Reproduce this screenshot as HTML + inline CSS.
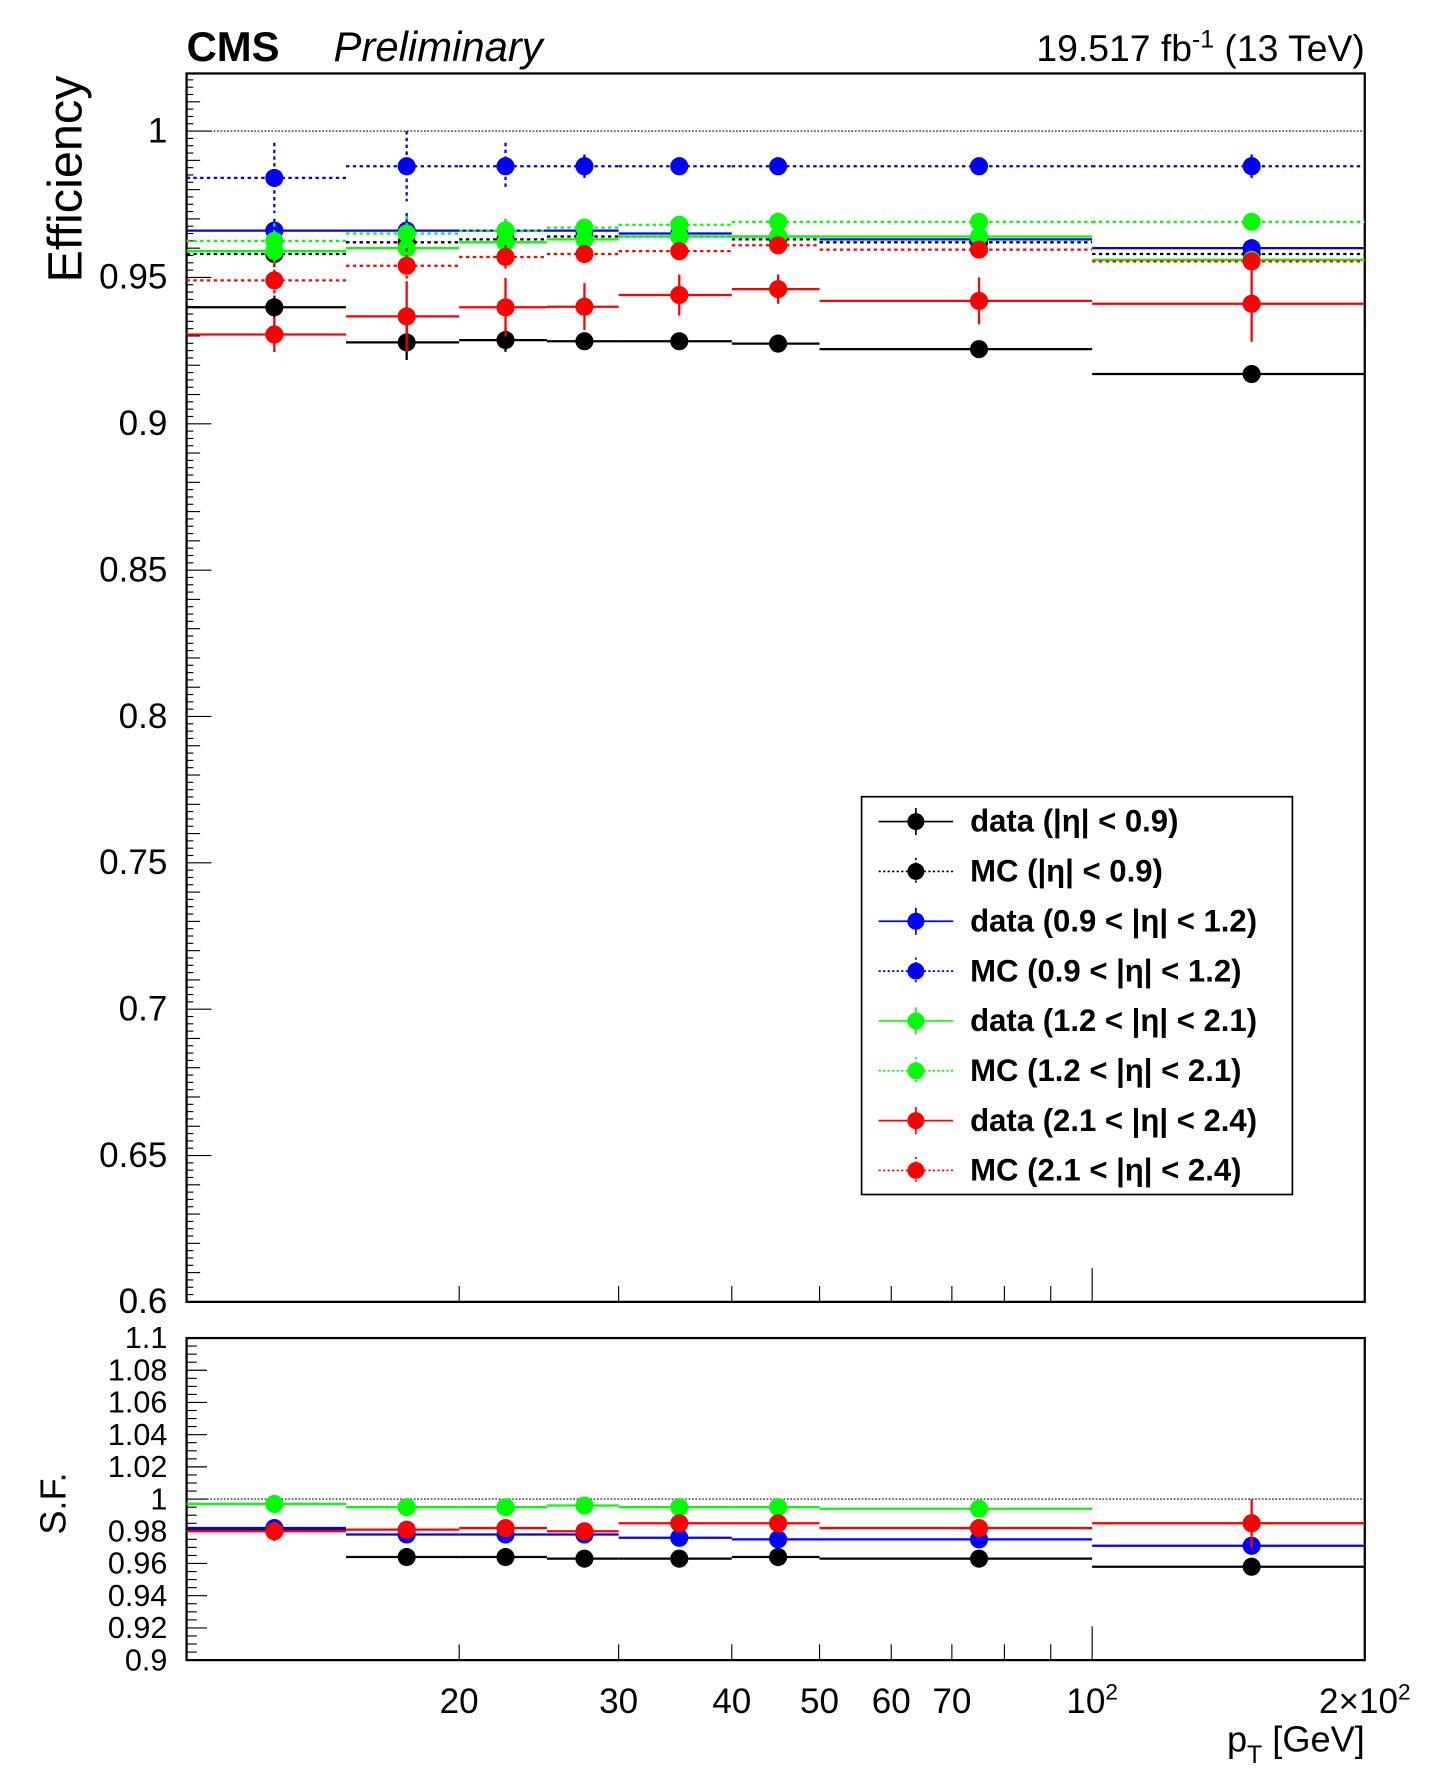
<!DOCTYPE html>
<html><head><meta charset="utf-8"><style>
html,body{margin:0;padding:0;background:#fff}
svg{display:block;font-family:"Liberation Sans",sans-serif}
</style></head><body>
<svg id="chart" width="1436" height="1772" viewBox="0 0 1270 1568" preserveAspectRatio="none" xmlns="http://www.w3.org/2000/svg">
<rect x="0" y="0" width="1270" height="1568" fill="#fff"/>
<text x="165" y="54" font-size="37" font-weight="bold">CMS</text>
<text x="295" y="54" font-size="37" font-style="italic">Preliminary</text>
<text x="1207" y="54" font-size="33" text-anchor="end">19.517 fb<tspan dy="-12" font-size="22">-1</tspan><tspan dy="12"> (13 TeV)</tspan></text>
<text transform="translate(72,250) rotate(-90)" font-size="43">Efficiency</text>
<text transform="translate(58,1358) rotate(-90)" font-size="32">S.F.</text>
<text x="1207" y="1550" font-size="32" text-anchor="end">p<tspan dy="10" font-size="22">T</tspan><tspan dy="-10"> [GeV]</tspan></text>
<g id="gtop"></g><g id="gbot"></g><g id="glegend"></g>
</svg>
<script>
const binEdges=[10,15,20,25,30,40,50,100,200];
const binCenters=[12.5,17.5,22.5,27.5,35,45,75,150];
const dataEta09=[0.9398,0.9278,0.9286,0.9282,0.9282,0.9274,0.9255,0.917];
const mcEta09=[0.958,0.962,0.963,0.964,0.964,0.963,0.962,0.958];
const dataEta12=[0.966,0.966,0.966,0.966,0.965,0.964,0.963,0.960];
const mcEta12=[0.984,0.988,0.988,0.988,0.988,0.988,0.988,0.988];
const dataEta21=[0.959,0.960,0.962,0.963,0.964,0.964,0.964,0.956];
const mcEta21=[0.9625,0.965,0.966,0.967,0.968,0.969,0.969,0.969];
const dataEta24=[0.9305,0.9367,0.9398,0.940,0.944,0.946,0.942,0.941];
const mcEta24=[0.949,0.954,0.957,0.958,0.959,0.961,0.9595,0.9555];
const errData=[0.004,0.006,0.004,0.003,0.002,0.002,0.002,0.003];
const errData24=[0.006,0.012,0.010,0.008,0.007,0.005,0.008,0.013];
const errMC=[0.006,0.006,0.004,0.002,0.001,0.001,0.001,0.002];
const sfEta09=[0.981,0.964,0.964,0.963,0.963,0.964,0.963,0.958];
const sfEta12=[0.982,0.978,0.978,0.978,0.976,0.975,0.975,0.971];
const sfEta21=[0.997,0.995,0.995,0.996,0.995,0.995,0.994,0.985];
const sfEta24=[0.980,0.981,0.982,0.980,0.985,0.985,0.982,0.985];
const sfErr24=[0.006,0.004,0.003,0.003,0.003,0.003,0.003,0.015];
const effTicks=[0.6,0.65,0.7,0.75,0.8,0.85,0.9,0.95,1];
const effTickLabels=["0.6","0.65","0.7","0.75","0.8","0.85","0.9","0.95","1"];
const sfTicks=[0.9,0.92,0.94,0.96,0.98,1,1.02,1.04,1.06,1.08,1.1];
const sfTickLabels=["0.9","0.92","0.94","0.96","0.98","1","1.02","1.04","1.06","1.08","1.1"];
const xTicks=[20,30,40,50,60,70];
const xTickLabels=["20","30","40","50","60","70"];
const legendLabels=["data (|η| < 0.9)","MC (|η| < 0.9)","data (0.9 < |η| < 1.2)","MC (0.9 < |η| < 1.2)","data (1.2 < |η| < 2.1)","MC (1.2 < |η| < 2.1)","data (2.1 < |η| < 2.4)","MC (2.1 < |η| < 2.4)"];

const NS="http://www.w3.org/2000/svg";
const L=165,R=1207,T1=65,B1=1152,T2=1184,B2=1469;
const xs=v=>L+(R-L)*Math.log10(v/10)/Math.log10(20);
const y1=v=>116+(1-v)*2590;
const y2=v=>1326.5-(v-1)*1425;
function mk(p,tag,a){const e=document.createElementNS(NS,tag);for(const k in a)e.setAttribute(k,a[k]);p.appendChild(e);return e;}
const gTop=document.getElementById('gtop'),gBot=document.getElementById('gbot'),gLeg=document.getElementById('glegend');

function frame(g,t,b,name){
 const r=mk(g,'rect',{x:L,y:t,width:R-L,height:b-t,fill:'none',stroke:'#000','stroke-width':2});
 
 
 for(let v=20;v<=200;v+=(v<100?10:100)){
  const x=xs(v);const len=v===100?30:14;
  mk(g,'line',{x1:x,y1:b,x2:x,y2:b-len,stroke:'#000','stroke-width':1});
 }
}
frame(gTop,T1,B1,'top-plot-frame');
frame(gBot,T2,B2,'sf-plot-frame');
for(let v=0.6;v<=1.0201;v+=0.0025){
 const r=Math.round(v*400);let len=r%20===0?22:(r%4===0?12:6);
 const y=y1(v); if(y<T1)continue;
 mk(gTop,'line',{x1:L,y1:y,x2:L+len,y2:y,stroke:'#000','stroke-width':1});
}
effTicks.forEach((v,i)=>{const t=mk(gTop,'text',{x:148,y:y1(v)+10,'font-size':31,'text-anchor':'end'});t.textContent=effTickLabels[i];

});
for(let v=0.9;v<=1.1001;v+=0.005){
 const r=Math.round(v*200);const len=r%4===0?18:9;const y=y2(v);
 mk(gBot,'line',{x1:L,y1:y,x2:L+len,y2:y,stroke:'#000','stroke-width':1});
}
sfTicks.forEach((v,i)=>{const t=mk(gBot,'text',{x:148,y:y2(v)+9,'font-size':27,'text-anchor':'end'});t.textContent=sfTickLabels[i];

});
xTicks.forEach((v,i)=>{const t=mk(gBot,'text',{x:xs(v),y:1516,'font-size':31,'text-anchor':'middle'});t.textContent=xTickLabels[i];

});
{const t=mk(gBot,'text',{x:xs(100),y:1516,'font-size':31,'text-anchor':'middle'});t.innerHTML='10<tspan dy="-12" font-size="20">2</tspan>';


const t2=mk(gBot,'text',{x:1207,y:1516,'font-size':31,'text-anchor':'middle'});t2.innerHTML='2×10<tspan dy="-12" font-size="20">2</tspan>';

}
mk(gTop,'line',{x1:L,y1:y1(1),x2:R,y2:y1(1),stroke:'#000','stroke-dasharray':'1.5,1.5','stroke-width':1});
mk(gBot,'line',{x1:L,y1:y2(1),x2:R,y2:y2(1),stroke:'#000','stroke-dasharray':'1.5,1.5','stroke-width':1});

function series(g,vals,errs,color,dotted,ys,name){
 const sg=mk(g,'g',{});
 
 
 const da=dotted?'3,3':'none';
 vals.forEach((v,i)=>{
  if(v==null)return;
  const y=ys(v),x=xs(binCenters[i]);
  mk(sg,'line',{x1:xs(binEdges[i]),y1:y,x2:xs(binEdges[i+1]),y2:y,stroke:color,'stroke-width':2,'stroke-dasharray':da});
  const e=errs?errs[i]:0;
  if(e) mk(sg,'line',{x1:x,y1:ys(v+e),x2:x,y2:ys(v-e),stroke:color,'stroke-width':2,'stroke-dasharray':da});
  const c=mk(sg,'circle',{cx:x,cy:y,r:8,fill:color});
  
  
 });
}
const K='#000',B='#0000ff',G='#00ff00',Rd='#ff0000';
series(gTop,dataEta09,errData,K,false,y1,'series-data-eta09');
series(gTop,mcEta09,errMC,K,true,y1,'series-mc-eta09');
series(gTop,dataEta12,errData,B,false,y1,'series-data-eta12');
series(gTop,mcEta12,errMC.map(e=>e*2),B,true,y1,'series-mc-eta12');
series(gTop,dataEta21,errData,G,false,y1,'series-data-eta21');
series(gTop,mcEta21,errMC,G,true,y1,'series-mc-eta21');
series(gTop,dataEta24,errData24,Rd,false,y1,'series-data-eta24');
series(gTop,mcEta24,errMC,Rd,true,y1,'series-mc-eta24');
series(gBot,sfEta09,null,K,false,y2,'sf-eta09');
series(gBot,sfEta12,null,B,false,y2,'sf-eta12');
series(gBot,sfEta21,null,G,false,y2,'sf-eta21');
series(gBot,sfEta24,sfErr24,Rd,false,y2,'sf-eta24');

const lb=mk(gLeg,'rect',{x:762,y:705,width:381,height:352,fill:'#fff',stroke:'#000','stroke-width':1.5});


const lc=[K,K,B,B,G,G,Rd,Rd];
legendLabels.forEach((lab,i)=>{
 const y=727+i*44.1;const d=i%2===1;
 const g=mk(gLeg,'g',{});
 
 
 mk(g,'line',{x1:777,y1:y,x2:843,y2:y,stroke:lc[i],'stroke-width':1.5,'stroke-dasharray':d?'2,2':'none'});
 mk(g,'line',{x1:810,y1:y-12,x2:810,y2:y+12,stroke:lc[i],'stroke-width':1.5,'stroke-dasharray':d?'2,2':'none'});
 mk(g,'circle',{cx:810,cy:y,r:7.5,fill:lc[i]});
 const t=mk(g,'text',{x:858,y:y+9,'font-size':27.5,'font-weight':'bold'});t.textContent=lab;
});
</script>
</body></html>
